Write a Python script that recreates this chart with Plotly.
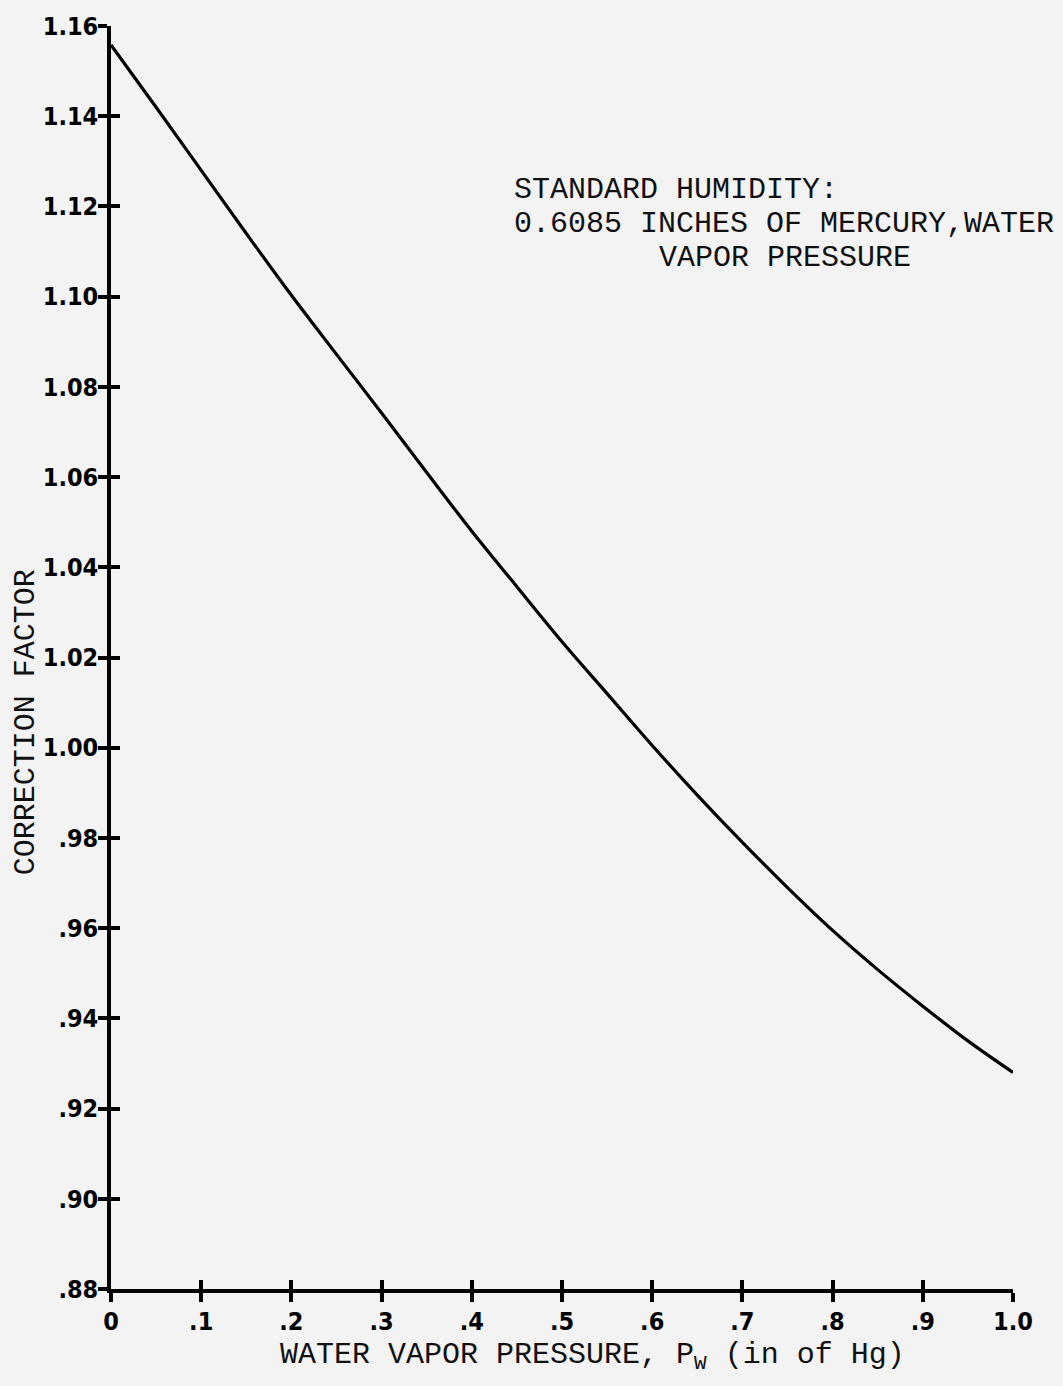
import plotly.graph_objects as go

# Data
pressure = [0.0, 0.05, 0.1, 0.15, 0.2, 0.25, 0.3, 0.35, 0.4, 0.45, 0.5,
            0.55, 0.6, 0.65, 0.7, 0.75, 0.8, 0.85, 0.9, 0.95, 1.0]
factor = [1.1558, 1.1420, 1.1280, 1.1140, 1.1003, 1.0872, 1.0742, 1.0610,
          1.0480, 1.0357, 1.0235, 1.0120, 1.0005, 0.9895, 0.9790, 0.9690,
          0.9595, 0.9508, 0.9427, 0.9350, 0.9280]

x_ticks = [0, 0.1, 0.2, 0.3, 0.4, 0.5, 0.6, 0.7, 0.8, 0.9, 1.0]
x_labels = ["0", ".1", ".2", ".3", ".4", ".5", ".6", ".7", ".8", ".9", "1.0"]
y_ticks = [0.88, 0.90, 0.92, 0.94, 0.96, 0.98, 1.00, 1.02, 1.04, 1.06,
           1.08, 1.10, 1.12, 1.14, 1.16]
y_labels = [".88", ".90", ".92", ".94", ".96", ".98", "1.00", "1.02", "1.04",
            "1.06", "1.08", "1.10", "1.12", "1.14", "1.16"]

note_lines = ["STANDARD HUMIDITY:",
              "0.6085 INCHES OF MERCURY,WATER",
              "VAPOR PRESSURE"]
x_title = "WATER VAPOR PRESSURE, P<sub>W</sub> (in of Hg)"
y_title = "CORRECTION FACTOR"

BG = "#f3f3f3"
tick_font = dict(family="Liberation Sans Narrow, DejaVu Sans Condensed, Arial Narrow, sans-serif",
                 size=25, color="black", weight="bold")
type_font = dict(family="Liberation Mono, Courier New, monospace", size=30, color="#111")

fig = go.Figure()
fig.add_trace(go.Scatter(x=pressure, y=factor, mode="lines",
                         line=dict(color="black", width=3.2, shape="spline"),
                         hoverinfo="skip", showlegend=False, cliponaxis=False))
# invisible trace for the overlay axes (inner half of the crossing ticks)
fig.add_trace(go.Scatter(x=pressure, y=factor, mode="lines", xaxis="x2", yaxis="y2",
                         line=dict(color="rgba(0,0,0,0)", width=0),
                         hoverinfo="skip", showlegend=False))

common = dict(showgrid=False, zeroline=False, showline=True, linecolor="black",
              linewidth=3.5, tickcolor="black", tickwidth=3.5, ticklen=9)

L, T, PW, PH = 111, 21, 902, 1268
W, H = 1063, 1386

fig.update_layout(
    width=W, height=H,
    paper_bgcolor=BG, plot_bgcolor=BG,
    margin=dict(l=L, r=W - L - PW, t=T, b=H - T - PH),
    xaxis=dict(range=[0, 1.0], tickvals=x_ticks, ticktext=x_labels,
               ticks="outside", tickfont=tick_font, ticklabelstandoff=-2, **common),
    yaxis=dict(range=[0.88, 1.16], tickvals=y_ticks, ticktext=y_labels,
               ticks="outside", tickfont=tick_font, ticklabelstandoff=-5, **common),
    xaxis2=dict(range=[0, 1.0], tickvals=x_ticks, overlaying="x", anchor="y2",
                side="bottom", ticks="inside", showticklabels=False, **common),
    yaxis2=dict(range=[0.88, 1.16], tickvals=y_ticks, overlaying="y", anchor="x2",
                side="left", ticks="inside", showticklabels=False, **common),
    showlegend=False,
)


def px_x(p):
    return (p - L) / PW


def px_y(p):
    return (T + PH - p) / PH


# note block
fig.add_annotation(text=note_lines[0], xref="paper", yref="paper", x=px_x(512),
                   y=px_y(186), xanchor="left", yanchor="middle",
                   showarrow=False, font=type_font)
fig.add_annotation(text=note_lines[1], xref="paper", yref="paper", x=px_x(512),
                   y=px_y(220), xanchor="left", yanchor="middle",
                   showarrow=False, font=type_font)
fig.add_annotation(text=note_lines[2], xref="paper", yref="paper", x=px_x(657),
                   y=px_y(254), xanchor="left", yanchor="middle",
                   showarrow=False, font=type_font)

# axis titles
fig.add_annotation(text=x_title, xref="paper", yref="paper", x=px_x(592),
                   y=px_y(1357), xanchor="center", yanchor="middle",
                   showarrow=False, font=type_font)
fig.add_annotation(text=y_title, xref="paper", yref="paper", x=px_x(26),
                   y=px_y(720), xanchor="center", yanchor="middle",
                   textangle=-90, showarrow=False, font=type_font)

fig.write_html("out.html",
               config={"displayModeBar": False},
               post_script="document.body.style.margin='0';"
                           "document.body.style.background='%s';" % BG)
